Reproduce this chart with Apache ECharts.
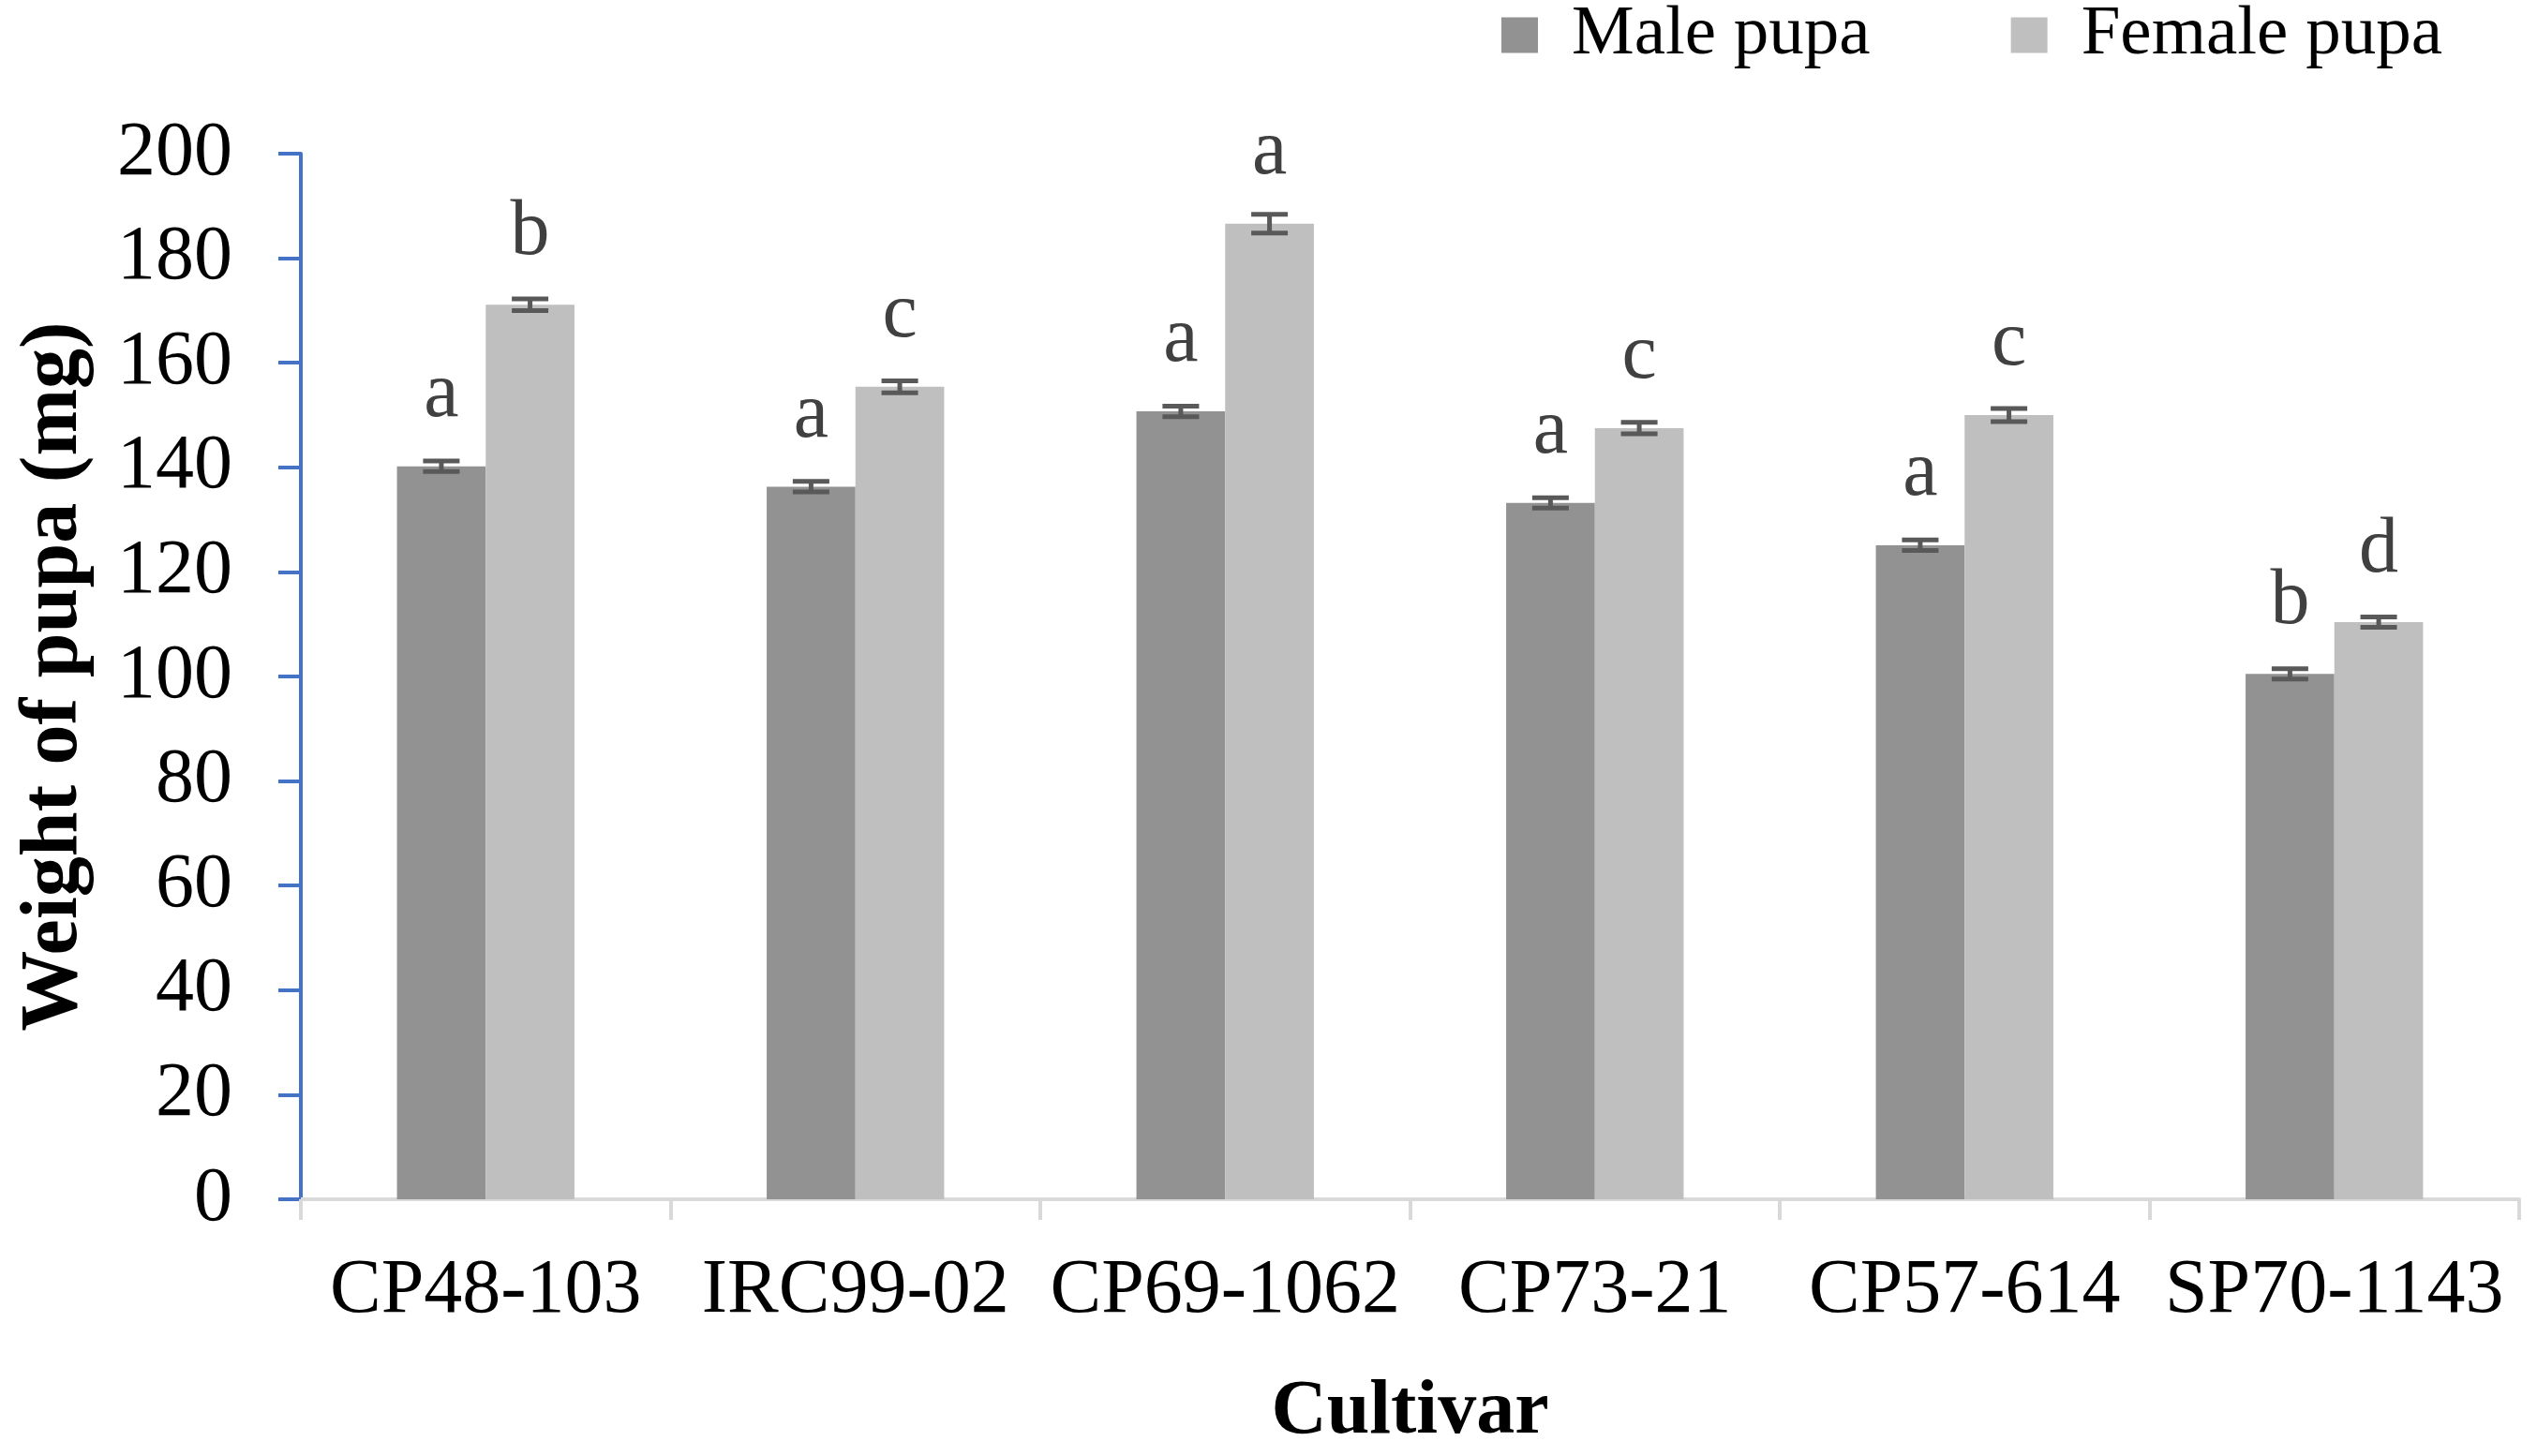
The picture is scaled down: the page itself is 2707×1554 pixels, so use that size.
<!DOCTYPE html>
<html>
<head>
<meta charset="utf-8">
<script src="https://cdn.jsdelivr.net/npm/echarts@6/dist/echarts.min.js"></script>
<style>
html,body{margin:0;padding:0;background:#fff;}
#chart{width:2707px;height:1554px;}
</style>
</head>
<body>
<div id="chart"></div>
<script>
const categories = ['CP48-103', 'IRC99-02', 'CP69-1062', 'CP73-21', 'CP57-614', 'SP70-1143'];
const maleValues = [140.2, 136.3, 150.7, 133.2, 125.1, 100.5];
const femaleValues = [171.1, 155.4, 186.6, 147.5, 150.0, 110.4];
const maleErrors = [1.0, 1.0, 1.0, 1.0, 1.0, 1.0];
const femaleErrors = [1.1, 1.15, 1.8, 1.1, 1.25, 1.0];
const maleLetters = ['a', 'a', 'a', 'a', 'a', 'b'];
const femaleLetters = ['b', 'c', 'a', 'c', 'c', 'd'];
const yMin = 0, yMax = 200, yStep = 20;

const FONT = 'Liberation Serif';
const CAT_GAP = 0.52;

function errorSeries(name, values, errors, side) {
  return {
    name: name,
    type: 'custom',
    z: 5,
    silent: true,
    data: values.map((v, i) => [i, v, errors[i]]),
    encode: { x: 0, y: 1 },
    renderItem: function (params, api) {
      const i = api.value(0), v = api.value(1), e = api.value(2);
      const top = api.coord([i, v + e]);
      const bot = api.coord([i, v - e]);
      const band = api.size([1, 0])[0];
      const barW = band * (1 - CAT_GAP) / 2;
      const x = top[0] + side * barW / 2;
      const cap = 39, lw = 5;
      const st = { stroke: '#595959', lineWidth: lw };
      return {
        type: 'group',
        children: [
          { type: 'line', shape: { x1: x, y1: top[1], x2: x, y2: bot[1] }, style: st },
          { type: 'line', shape: { x1: x - cap / 2, y1: top[1], x2: x + cap / 2, y2: top[1] }, style: st },
          { type: 'line', shape: { x1: x - cap / 2, y1: bot[1], x2: x + cap / 2, y2: bot[1] }, style: st }
        ]
      };
    }
  };
}

function barSeries(name, values, letters, color) {
  return {
    name: name,
    type: 'bar',
    barGap: '0%',
    barCategoryGap: (CAT_GAP * 100) + '%',
    data: values,
    itemStyle: { color: color },
    label: {
      show: true,
      position: 'top',
      distance: 34,
      formatter: p => letters[p.dataIndex],
      fontFamily: FONT,
      fontSize: 84,
      color: '#404040'
    }
  };
}

const chart = echarts.init(document.getElementById('chart'), null, { renderer: 'canvas' });
chart.setOption({
  animation: false,
  backgroundColor: '#ffffff',
  textStyle: { fontFamily: FONT },
  grid: { left: 321, right: 19, top: 164, bottom: 270, containLabel: false },
  legend: {
    data: ['Male pupa', 'Female pupa'],
    left: 1602,
    top: 0,
    padding: 0,
    icon: 'rect',
    itemWidth: 39,
    itemHeight: 38,
    itemGap: 150,
    selectedMode: false,
    textStyle: { fontFamily: FONT, fontSize: 75, color: '#000', padding: [0, 0, 0, 31] }
  },
  xAxis: {
    type: 'category',
    data: categories,
    name: 'Cultivar',
    nameLocation: 'middle',
    nameGap: 187,
    nameTextStyle: { fontFamily: FONT, fontSize: 82, fontWeight: 'bold', color: '#000' },
    axisLine: { lineStyle: { color: '#d9d9d9', width: 4 } },
    axisTick: { show: true, length: 22, lineStyle: { color: '#d9d9d9', width: 4 } },
    axisLabel: { fontFamily: FONT, fontSize: 82, color: '#000', margin: 57, interval: 0 }
  },
  yAxis: {
    type: 'value',
    min: yMin,
    max: yMax,
    interval: yStep,
    name: 'Weight of pupa (mg)',
    nameLocation: 'middle',
    nameGap: 219,
    nameTextStyle: { fontFamily: FONT, fontSize: 86, fontWeight: 'bold', color: '#000' },
    axisLine: { show: true, lineStyle: { color: '#4472C4', width: 4 } },
    axisTick: { show: true, length: 24, lineStyle: { color: '#4472C4', width: 4 } },
    axisLabel: { fontFamily: FONT, fontSize: 82, color: '#000', margin: 73 },
    splitLine: { show: false }
  },
  series: [
    barSeries('Male pupa', maleValues, maleLetters, '#929292'),
    barSeries('Female pupa', femaleValues, femaleLetters, '#bfbfbf'),
    errorSeries('Male error', maleValues, maleErrors, -1),
    errorSeries('Female error', femaleValues, femaleErrors, 1)
  ]
});
</script>
</body>
</html>
